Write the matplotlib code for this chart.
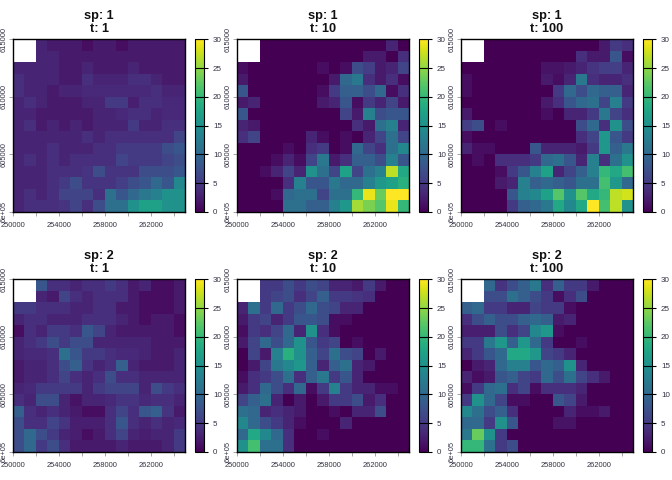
import numpy as np
import matplotlib
matplotlib.use('Agg')
import matplotlib.pyplot as plt

plt.rcParams['font.family'] = ['Liberation Sans', 'DejaVu Sans']

N = np.nan

# rows run from the top of the map (north) to the bottom
sp1_t1 = [
    [N, N, 3, 2, 2, 2, 1, 2, 2, 1, 2, 2, 2, 2, 2],
    [N, N, 3, 3, 2, 2, 2, 2, 2, 2, 2, 2, 2, 2, 2],
    [3, 3, 3, 3, 2, 2, 3, 2, 2, 2, 3, 2, 2, 2, 2],
    [4, 3, 3, 3, 2, 2, 4, 3, 3, 3, 4, 4, 3, 2, 2],
    [4, 3, 3, 2, 3, 3, 3.5, 3.5, 3.5, 3.5, 3.5, 3.5, 4, 3, 3],
    [3, 4, 3, 2, 2, 2, 3, 3, 5, 5, 2.5, 4, 4, 3.5, 3.5],
    [3, 3, 2, 2, 2, 2, 2, 3, 3, 3.5, 4, 4, 3, 3.5, 3.5],
    [3, 4, 2, 3, 2, 3, 2, 3, 3, 3, 5, 3, 3, 4, 4],
    [3, 3, 3, 3, 3, 3, 4, 3, 4, 4, 4, 4, 4, 4, 6],
    [3, 3, 3, 4, 3, 3, 3, 4, 4, 5, 5, 5, 5, 7, 8],
    [3, 4, 3, 4, 3, 4, 4, 4, 4, 6, 5, 5, 5, 6, 7],
    [3, 3, 3, 4, 4, 4, 4.5, 7, 4.5, 4.5, 4.5, 7, 7, 7, 8],
    [3, 3, 3, 4, 5, 7, 4.5, 4.5, 4.5, 5.5, 7, 8, 10, 8, 14],
    [3, 4, 3, 4, 6, 6, 6, 4, 11, 8, 10, 12, 13, 15, 15],
    [3, 4, 4, 4, 4.5, 6, 4, 7, 11, 11, 15, 17, 17, 15, 15],
]
sp1_t10 = [
    [N, N, 0, 0, 0, 0, 0, 0, 0, 0, 0, 0, 0, 3, 0],
    [N, N, 0, 0, 0, 0, 0, 0, 0, 0, 0, 2, 2, 0, 4],
    [1, 0, 0, 0, 0, 0, 0, 1, 0, 1, 7, 5.5, 2, 3, 6],
    [2, 0, 0, 0, 0, 0, 0, 0, 2, 10, 12, 4, 2, 4, 1],
    [8, 0, 0, 0, 0, 0, 0, 1, 5, 9, 9, 7, 10, 1, 4],
    [2, 3, 0, 0, 0, 0, 0, 2, 3, 8, 1, 5, 3, 6, 2],
    [8, 0, 0, 0, 0, 0, 0, 0, 0, 6, 2, 13, 7, 8, 8],
    [3, 2, 0, 0, 0, 0, 0, 0, 0, 0, 4, 2, 11, 13, 3],
    [4, 6, 0, 0, 0, 0, 3, 1, 0, 1, 0, 3, 6, 11, 6],
    [0, 0, 0, 0, 1, 0, 4, 5, 0, 1, 10, 6, 4, 11, 14],
    [0, 0, 0, 1, 3, 1, 6, 12, 2, 4, 9, 9, 7, 13, 8],
    [0, 0, 1, 3, 6, 3, 15, 11, 6, 17, 6, 11, 13, 27, 18],
    [0, 0, 0, 0, 4, 13, 8, 8, 12, 10, 10, 13, 16, 17, 19],
    [0, 0, 0, 1, 10, 11, 11, 6, 11, 11, 20, 29, 23, 30, 30],
    [0, 0, 0, 0, 11, 11, 9, 9, 13, 16, 26, 24, 22, 29, 20],
]
sp1_t100 = [
    [N, N, 0, 0, 0, 0, 0, 0, 0, 0, 0, 0, 2, 5, 4],
    [N, N, 0, 0, 0, 0, 0, 0, 0, 0, 4, 2, 2, 8, 1],
    [0, 0, 0, 0, 0, 0, 0, 1.5, 1.5, 2, 3, 4.5, 5.5, 5.5, 3],
    [1, 0, 0, 0, 0, 0, 0, 2, 1, 3, 12, 4, 3, 3, 4],
    [1, 0, 0, 0, 0, 0, 0, 0, 5, 10, 7, 10, 9, 9, 3],
    [0, 0, 0, 0, 0, 0, 0, 2, 4, 8, 10, 11, 6, 13, 5],
    [2, 0, 0, 0, 0, 0, 0, 1, 0, 3, 3, 5, 12, 6, 4],
    [5.5, 7, 0, 1, 0, 0, 0, 0, 0, 0, 7, 10, 4, 15, 7],
    [1, 0, 0, 0, 0, 0, 0, 0, 0, 0, 4, 6, 16, 8, 5],
    [3, 1, 1, 0, 0, 0, 8, 3, 3, 3, 2, 5, 16, 9, 12],
    [0, 1, 0, 4, 4, 4, 5, 10, 11, 8, 3, 13, 4, 11, 15],
    [0, 0, 0, 1, 5, 8, 13, 17, 3, 6, 9, 13, 20, 18, 21],
    [0, 0, 0, 2, 3, 13, 9, 10, 9, 8, 11, 11, 21, 16, 10],
    [0, 0, 0, 0, 8, 13, 14, 17, 22, 15, 22, 18, 20, 27, 28],
    [0, 0, 0, 0, 5, 9, 10, 12, 18, 14, 18, 30, 21, 27, 15],
]
sp2_t1 = [
    [N, N, 8, 4, 4, 3, 4, 4, 5, 4, 2, 3, 1, 1, 2],
    [N, N, 3, 2, 6, 4, 3, 4, 4, 4, 2, 1, 1, 1, 2],
    [5, 5, 4, 4, 4, 3, 3, 4, 4, 2, 2, 1, 1, 1, 2],
    [3, 4, 4, 3, 3, 3, 4, 4, 4, 3, 2, 1, 2, 2, 1],
    [1, 4, 3, 5, 5, 4, 8, 6, 3, 2, 2, 2, 2, 2, 1],
    [3, 4, 5, 7, 5, 7, 7, 3, 3, 3, 3, 3, 2, 2, 2],
    [3, 3.5, 3.5, 4, 11, 8, 5, 5, 4, 3.5, 3.5, 3, 2, 2, 3],
    [2, 3, 3, 4, 7, 9, 4.5, 3, 4, 9, 3, 2, 2, 2, 3],
    [2, 3, 3, 4, 6, 4, 3, 4, 7, 4, 4, 3, 3, 3, 3],
    [3, 3.5, 5, 5, 5, 5, 3, 5, 6, 6, 6, 3, 7, 5, 4],
    [4, 3, 7, 7, 3, 1.5, 3, 3, 3.5, 4.5, 4.5, 3.5, 4, 4, 3],
    [9, 4, 3, 4, 3, 2, 1, 1, 4, 6, 4, 8, 9, 4.5, 2],
    [7, 4, 4, 6, 4.5, 2.5, 2.5, 2.5, 4, 8, 4, 3, 4, 3, 3.5],
    [7, 10, 7, 5, 3, 2.5, 1, 2, 4, 6, 3, 2.5, 3, 3, 5],
    [7, 10, 5, 7, 4, 2, 2, 2, 2, 3, 2, 2, 2, 3, 5],
]
sp2_t10 = [
    [N, N, 5, 5, 7, 5, 7, 6, 3, 3, 2, 5, 2, 0, 0],
    [N, N, 5, 6, 7, 4, 6, 9, 5, 5, 4.5, 4, 0, 0, 0],
    [3, 11, 5, 10, 5, 7, 10, 7, 6, 3, 3, 0, 0, 0, 0],
    [2, 5, 6, 3, 5, 8, 8, 7, 1, 1, 0, 0, 0, 0, 0],
    [1, 5, 4, 6, 10, 3, 15, 4, 1, 0, 0, 0, 0, 0, 0],
    [2, 6, 10, 7, 10, 15, 8, 5, 6, 0, 1, 0, 0, 0, 0],
    [0, 6, 2, 13, 19, 15, 9, 6, 11, 7, 6, 0, 2, 0, 0],
    [0, 2, 6, 12, 14, 16, 9, 3, 9, 11, 3, 2, 0, 0, 0],
    [1, 4, 5, 7, 11, 4, 9, 12, 5, 8, 3, 0, 0, 0, 0],
    [2, 4, 10, 7, 4, 10, 1, 5, 13, 5, 3, 3, 1, 1, 0],
    [6, 9, 11, 3, 0, 2, 0, 2, 5, 5, 7, 2, 4, 0, 0],
    [11, 10, 3, 4, 3, 2, 0, 0, 1, 0, 3, 3, 7, 0, 0],
    [14, 10, 7, 5, 3, 1, 0, 0, 0, 3, 0, 0, 0, 0, 0],
    [10, 18, 14, 10, 4, 0, 0, 1, 0, 0, 0, 0, 0, 0, 0],
    [15, 21, 11, 11, 4, 0, 0, 0, 0, 0, 0, 0, 0, 0, 0],
]
sp2_t100 = [
    [N, N, 10, 4.5, 7, 9, 12, 4, 9, 5, 5, 2, 0, 0, 0],
    [N, N, 7, 7, 11, 9, 7, 5, 1, 4, 7, 0, 0, 0, 0],
    [9, 10, 5, 5, 3, 3, 6, 5, 5, 1, 0, 0, 0, 0, 0],
    [4, 7, 9, 7, 7, 9, 10, 9, 2, 3, 0, 0, 0, 0, 0],
    [2.5, 2.5, 2.5, 7, 4, 6, 14, 16, 1, 0, 0, 0, 0, 0, 0],
    [5, 5, 12, 16, 9, 16, 10, 5, 0, 0, 1, 0, 0, 0, 0],
    [3, 5, 8, 10, 18, 18, 16, 6, 5, 3, 0, 0, 0, 0, 0],
    [0, 2, 3, 10, 13, 13, 8, 10, 9, 15, 3, 0, 0, 0, 0],
    [3, 1, 2, 8, 9, 6, 5, 10, 7, 11, 6, 4, 2, 0, 0],
    [1, 5, 10, 11, 4, 6, 1, 4, 4, 4, 3, 0, 0, 0, 0],
    [5, 15, 10, 6, 1, 1, 0, 0, 8, 6, 2, 0, 0, 0, 0],
    [14, 11, 7, 9, 4, 0, 0, 0, 0, 3, 1, 1, 2, 0, 0],
    [10, 10, 5, 15, 8, 0, 0, 0, 1.5, 1.5, 0, 0, 0, 0, 0],
    [12, 23, 15, 5, 0, 0, 0, 0, 0, 0, 0, 0, 0, 0, 0],
    [20, 20, 11, 5, 7, 0, 0, 0, 0, 0, 0, 0, 0, 0, 0],
]

panels = [sp1_t1, sp1_t10, sp1_t100, sp2_t1, sp2_t10, sp2_t100]
titles = ['sp: 1\nt: 1', 'sp: 1\nt: 10', 'sp: 1\nt: 100',
          'sp: 2\nt: 1', 'sp: 2\nt: 10', 'sp: 2\nt: 100']

x_edges = np.arange(250000, 266000, 1000)
y_edges = np.arange(615000, 599000, -1000)
x_ticks = [250000, 252000, 254000, 256000, 258000, 260000, 262000, 264000]
x_labels = ['250000', '', '254000', '', '258000', '', '262000', '']
y_ticks = [600000, 605000, 610000, 615000]
y_labels = ['6e+05', '605000', '610000', '615000']
cb_ticks = [0, 5, 10, 15, 20, 25, 30]

W, H = 672, 480
txt = '#333344'

fig = plt.figure(figsize=(W / 100, H / 100), dpi=100)

for i in range(6):
    # pixel offsets of this panel
    ox = 224 * (i % 3)
    oy = 240 * (i // 3)

    ax = fig.add_axes([(12.7 + ox) / W, 1 - (212 + oy) / H, 172.6 / W, 172.7 / H])
    mesh = ax.pcolormesh(x_edges, y_edges, np.array(panels[i], dtype=float),
                         cmap='viridis', vmin=0, vmax=30, linewidth=0, rasterized=True)
    ax.set_xlim(250000, 265000)
    ax.set_ylim(600000, 615000)
    ax.set_xticks(x_ticks)
    ax.set_xticklabels(x_labels, fontsize=5.4, color=txt)
    ax.set_yticks(y_ticks)
    ax.set_yticklabels(y_labels, fontsize=5.4, color=txt, rotation=90, va='center')
    ax.tick_params(axis='x', length=3, width=0.6, color='#999999', pad=4.2)
    ax.tick_params(axis='y', length=3, width=0.6, color='#999999', pad=0.5)
    for s in ax.spines.values():
        s.set_linewidth(1.0)
    ax.set_title(titles[i], fontsize=9.2, fontweight='bold', color='#111111',
                 pad=5, linespacing=1.15)

    # legend bar
    cax = fig.add_axes([(195.3 + ox) / W, 1 - (212 + oy) / H, 8.7 / W, 172.7 / H])
    cb = fig.colorbar(mesh, cax=cax)
    cb.set_ticks(cb_ticks)
    cb.ax.tick_params(labelsize=5.8, length=3, width=0.8, pad=3.5, labelcolor=txt)
    cb.outline.set_linewidth(0.8)
    for t in cb_ticks:
        cb.ax.axhline(t, color='black', lw=0.8)

fig.savefig('out.png', dpi=100)
